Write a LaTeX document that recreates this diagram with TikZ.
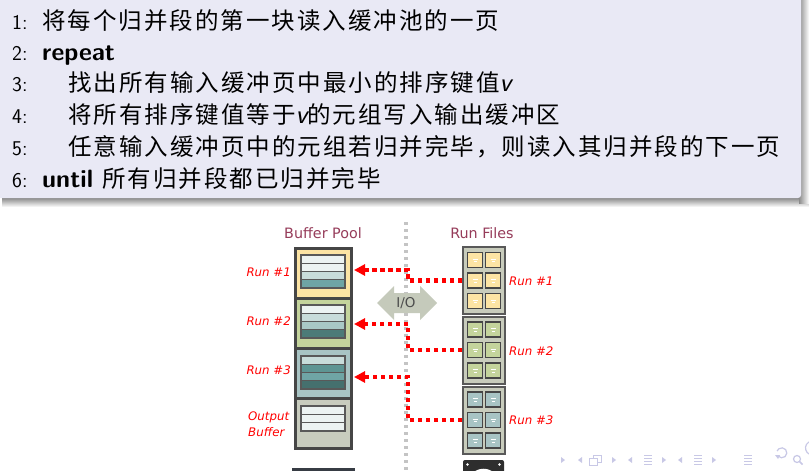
\documentclass[tikz,border=0pt]{standalone}
\usepackage{fontspec}
\newfontfamily\cjk[LetterSpace=8.5]{Noto Sans CJK SC}
\newfontfamily\dv{DejaVu Sans}
\usetikzlibrary{arrows.meta,calc}
\definecolor{blockbg}{RGB}{233,233,245}
\definecolor{navc}{RGB}{200,200,230}
\definecolor{titlec}{RGB}{150,60,90}
\definecolor{cellY}{RGB}{252,228,164}
\definecolor{cellG}{RGB}{196,212,156}
\definecolor{cellB}{RGB}{168,196,196}
\definecolor{cellO}{RGB}{200,204,190}
\definecolor{sL}{RGB}{236,243,242}
\definecolor{sM}{RGB}{200,220,218}
\definecolor{sM2}{RGB}{169,200,198}
\definecolor{sT}{RGB}{111,165,165}
\definecolor{sT2}{RGB}{94,149,147}
\definecolor{sD}{RGB}{76,123,120}
\definecolor{sD2}{RGB}{69,112,110}
\definecolor{bordc}{RGB}{70,70,70}
\definecolor{rfill}{RGB}{200,204,188}
\definecolor{iofill}{RGB}{197,202,187}
\definecolor{dotgray}{RGB}{196,196,196}
\definecolor{slate}{RGB}{55,60,68}
\newcommand{\vvar}{{\sffamily\itshape\fontsize{27}{28}\selectfont v}}
\begin{document}
\begin{tikzpicture}[x=1pt,y=-1pt,
  numlbl/.style={anchor=base west,inner sep=0,font=\sffamily\fontsize{21}{22}\selectfont},
  codetxt/.style={anchor=base west,inner sep=0,font=\fontsize{23.5}{28}\selectfont},
  kwtxt/.style={anchor=base west,inner sep=0,font=\sffamily\bfseries\fontsize{25}{30}\selectfont},
  bcell/.style={draw=bordc,line width=3,inner sep=0,minimum width=56,minimum height=50,rectangle},
  rblock/.style={draw=bordc!90,line width=2,fill=rfill,inner sep=0,minimum width=42,minimum height=67,rectangle},
  stripe/.style={draw=bordc!90,line width=1.2},
  sqbox/.style={draw=bordc,line width=1.8},
  redline/.style={draw=red,line width=4.5,dash pattern=on 4.5pt off 3.5pt,-{Triangle[length=11pt,width=11pt]}},
  redlbl/.style={text=red,inner sep=0,font=\dv\itshape\fontsize{11.8}{16}\selectfont},
  coltitle/.style={text=titlec,inner sep=0,font=\dv\fontsize{14.3}{16}\selectfont}
]
\useasboundingbox (0,0) rectangle (809,471);
\clip (0,0) rectangle (809,471);
\fill[white] (0,0) rectangle (809,471);

% block with shadow
\shade[top color=black!55,bottom color=white] (2,196) rectangle (809,207);
\shade[left color=black!45,right color=white] (799,-5) rectangle (809,203);
\fill[blockbg,rounded corners=3] (-10,-10) rectangle (801,198);

% algorithm lines
\node[numlbl] (n1) at (12,29) {1:};
\node[codetxt] (t1) at (42,29) {\cjk 将每个归并段的第一块读入缓冲池的一页};
\node[numlbl] (n2) at (12,60) {2:};
\node[kwtxt] (t2) at (42,60) {repeat};
\node[numlbl] (n3) at (12,91) {3:};
\node[codetxt] (t3) at (68,91) {{\cjk 找出所有输入缓冲页中最小的排序键值}\vvar};
\node[numlbl] (n4) at (12,123) {4:};
\node[codetxt] (t4) at (68,123) {{\cjk 将所有排序键值等于}\vvar{\cjk 的元组写入输出缓冲区}};
\node[numlbl] (n5) at (12,155) {5:};
\node[codetxt] (t5) at (68,155) {\cjk 任意输入缓冲页中的元组若归并完毕，则读入其归并段的下一页};
\node[numlbl] (n6) at (12,187) {6:};
\node[kwtxt] (t6) at (42,187) {until\ {\mdseries\fontsize{23.5}{28}\selectfont\cjk 所有归并段都已归并完毕}};

% gray dotted divider
\draw[dotgray,line width=3.2,dash pattern=on 3.2pt off 3.8pt] (406,222) -- (406,475);

% I/O arrow
\fill[iofill] (377,303) -- (394,286) -- (394,293) -- (420,293) -- (420,286) -- (437,303)
  -- (420,320) -- (420,313) -- (394,313) -- (394,320) -- cycle;
\node[inner sep=0,text=black!70,font=\dv\fontsize{13.5}{15}\selectfont] (io) at (406,303) {I/O};

% titles
\node[coltitle] (bp) at (323,233) {Buffer Pool};
\node[coltitle] (rf) at (482,233) {Run Files};

% buffer pool cells
\node[bcell,fill=cellY] (b1) at (323,273) {};
\node[bcell,fill=cellG] (b2) at (323,323) {};
\node[bcell,fill=cellB] (b3) at (323,373) {};
\node[bcell,fill=cellO] (b4) at (323,423) {};

\foreach \c [count=\i from 0] in {sL,sL,sM,sT}
  \filldraw[stripe,fill=\c] (301,{255+\i*8.25}) rectangle (345,{263.25+\i*8.25});
\foreach \c [count=\i from 0] in {sL,sM,sM2,sD}
  \filldraw[stripe,fill=\c] (301,{305+\i*8.25}) rectangle (345,{313.25+\i*8.25});
\foreach \c [count=\i from 0] in {sM,sT2,sT,sD2}
  \filldraw[stripe,fill=\c] (301,{356+\i*8.25}) rectangle (345,{364.25+\i*8.25});
\foreach \c [count=\i from 0] in {sL,sL,sL}
  \filldraw[stripe,fill=\c] (301,{406+\i*8.33}) rectangle (345,{414.33+\i*8.33});

% run file blocks
\node[rblock] (r1) at (484,280.5) {};
\node[rblock] (r2) at (484,350) {};
\node[rblock] (r3) at (484,420) {};
\foreach \cy/\col in {280.5/cellY,350/cellG,420/cellB}
  \foreach \dx in {-9,9}
    \foreach \dy in {-20.5,0,20.5} {
      \filldraw[sqbox,fill=\col] ({484+\dx-7.5},{\cy+\dy-7.5}) rectangle ++(15,15);
      \draw[white,line width=0.7] ({484+\dx-2.5},{\cy+\dy-1}) -- ++(5,0);
      \draw[white,line width=0.7] ({484+\dx-1.5},{\cy+\dy+1.5}) -- ++(3,0);
    }

% labels
\node[redlbl,anchor=east] (l1) at (291,272) {Run \#1};
\node[redlbl,anchor=east] (l2) at (291,321) {Run \#2};
\node[redlbl,anchor=east] (l3) at (291,370) {Run \#3};
\node[redlbl,anchor=west,align=left] (l4) at (248,424) {Output\\Buffer};
\node[redlbl,anchor=west] (m1) at (509,281) {Run \#1};
\node[redlbl,anchor=west] (m2) at (509,351) {Run \#2};
\node[redlbl,anchor=west] (m3) at (509,420) {Run \#3};

% red connectors
\coordinate (e1) at ($(b1.east)+(1.5,-3)$);
\coordinate (e2) at ($(b2.east)+(1.5,1)$);
\coordinate (e3) at ($(b3.east)+(1.5,4)$);
\coordinate (j1) at (408,270);
\coordinate (j2) at (408,324);
\coordinate (j3) at (408,377);
\draw[redline] (r1.west) -| (j1) -- (e1);
\draw[redline] (r2.west) -| (j2) -- (e2);
\draw[redline] (r3.west) -| (j3) -- (e3);

% cut-off shapes at bottom
\fill[slate] (292,468) rectangle (355,476);
\fill[black!82,rounded corners=2] (463,460) rectangle (504,480);
\fill[white] (467.5,464.5) circle (1.4);
\fill[white] (499.5,464.5) circle (1.4);
\draw[white,line width=2.5] (483.5,485) circle (15);

% navigation symbols
\begin{scope}[navc]
\fill (561,457) -- (565,460) -- (561,463) -- cycle;
\fill (582,457) -- (578,460) -- (582,463) -- cycle;
\draw[line width=1,fill=white] (593,455) rectangle (601,462);
\draw[line width=1,fill=white] (589,458) rectangle (597,465);
\fill (612,457) -- (616,460) -- (612,463) -- cycle;
\fill (632,457) -- (628,460) -- (632,463) -- cycle;
\foreach \yy in {455,458,461,464} \draw[line width=1] (644,\yy) -- (652,\yy);
\fill (662,457) -- (666,460) -- (662,463) -- cycle;
\fill (682,457) -- (678,460) -- (682,463) -- cycle;
\foreach \yy in {455,458,461,464} \draw[line width=1] (694,\yy) -- (702,\yy);
\fill (712,457) -- (716,460) -- (712,463) -- cycle;
\foreach \yy in {455,458,461,464} \draw[line width=1] (744,\yy) -- (752,\yy);
\draw[line width=1.2] (778,456) arc[start angle=140,end angle=-160,radius=5];
\fill (775,455) -- (780,455) -- (778,459) -- cycle;
\draw[line width=1.2] (797,459) circle (3.5);
\draw[line width=1.5] (799.5,461.5) -- (802.5,464.5);
\draw[line width=1.2] (809,454) arc[start angle=120,end angle=240,radius=7];
\end{scope}
\end{tikzpicture}
\end{document}
